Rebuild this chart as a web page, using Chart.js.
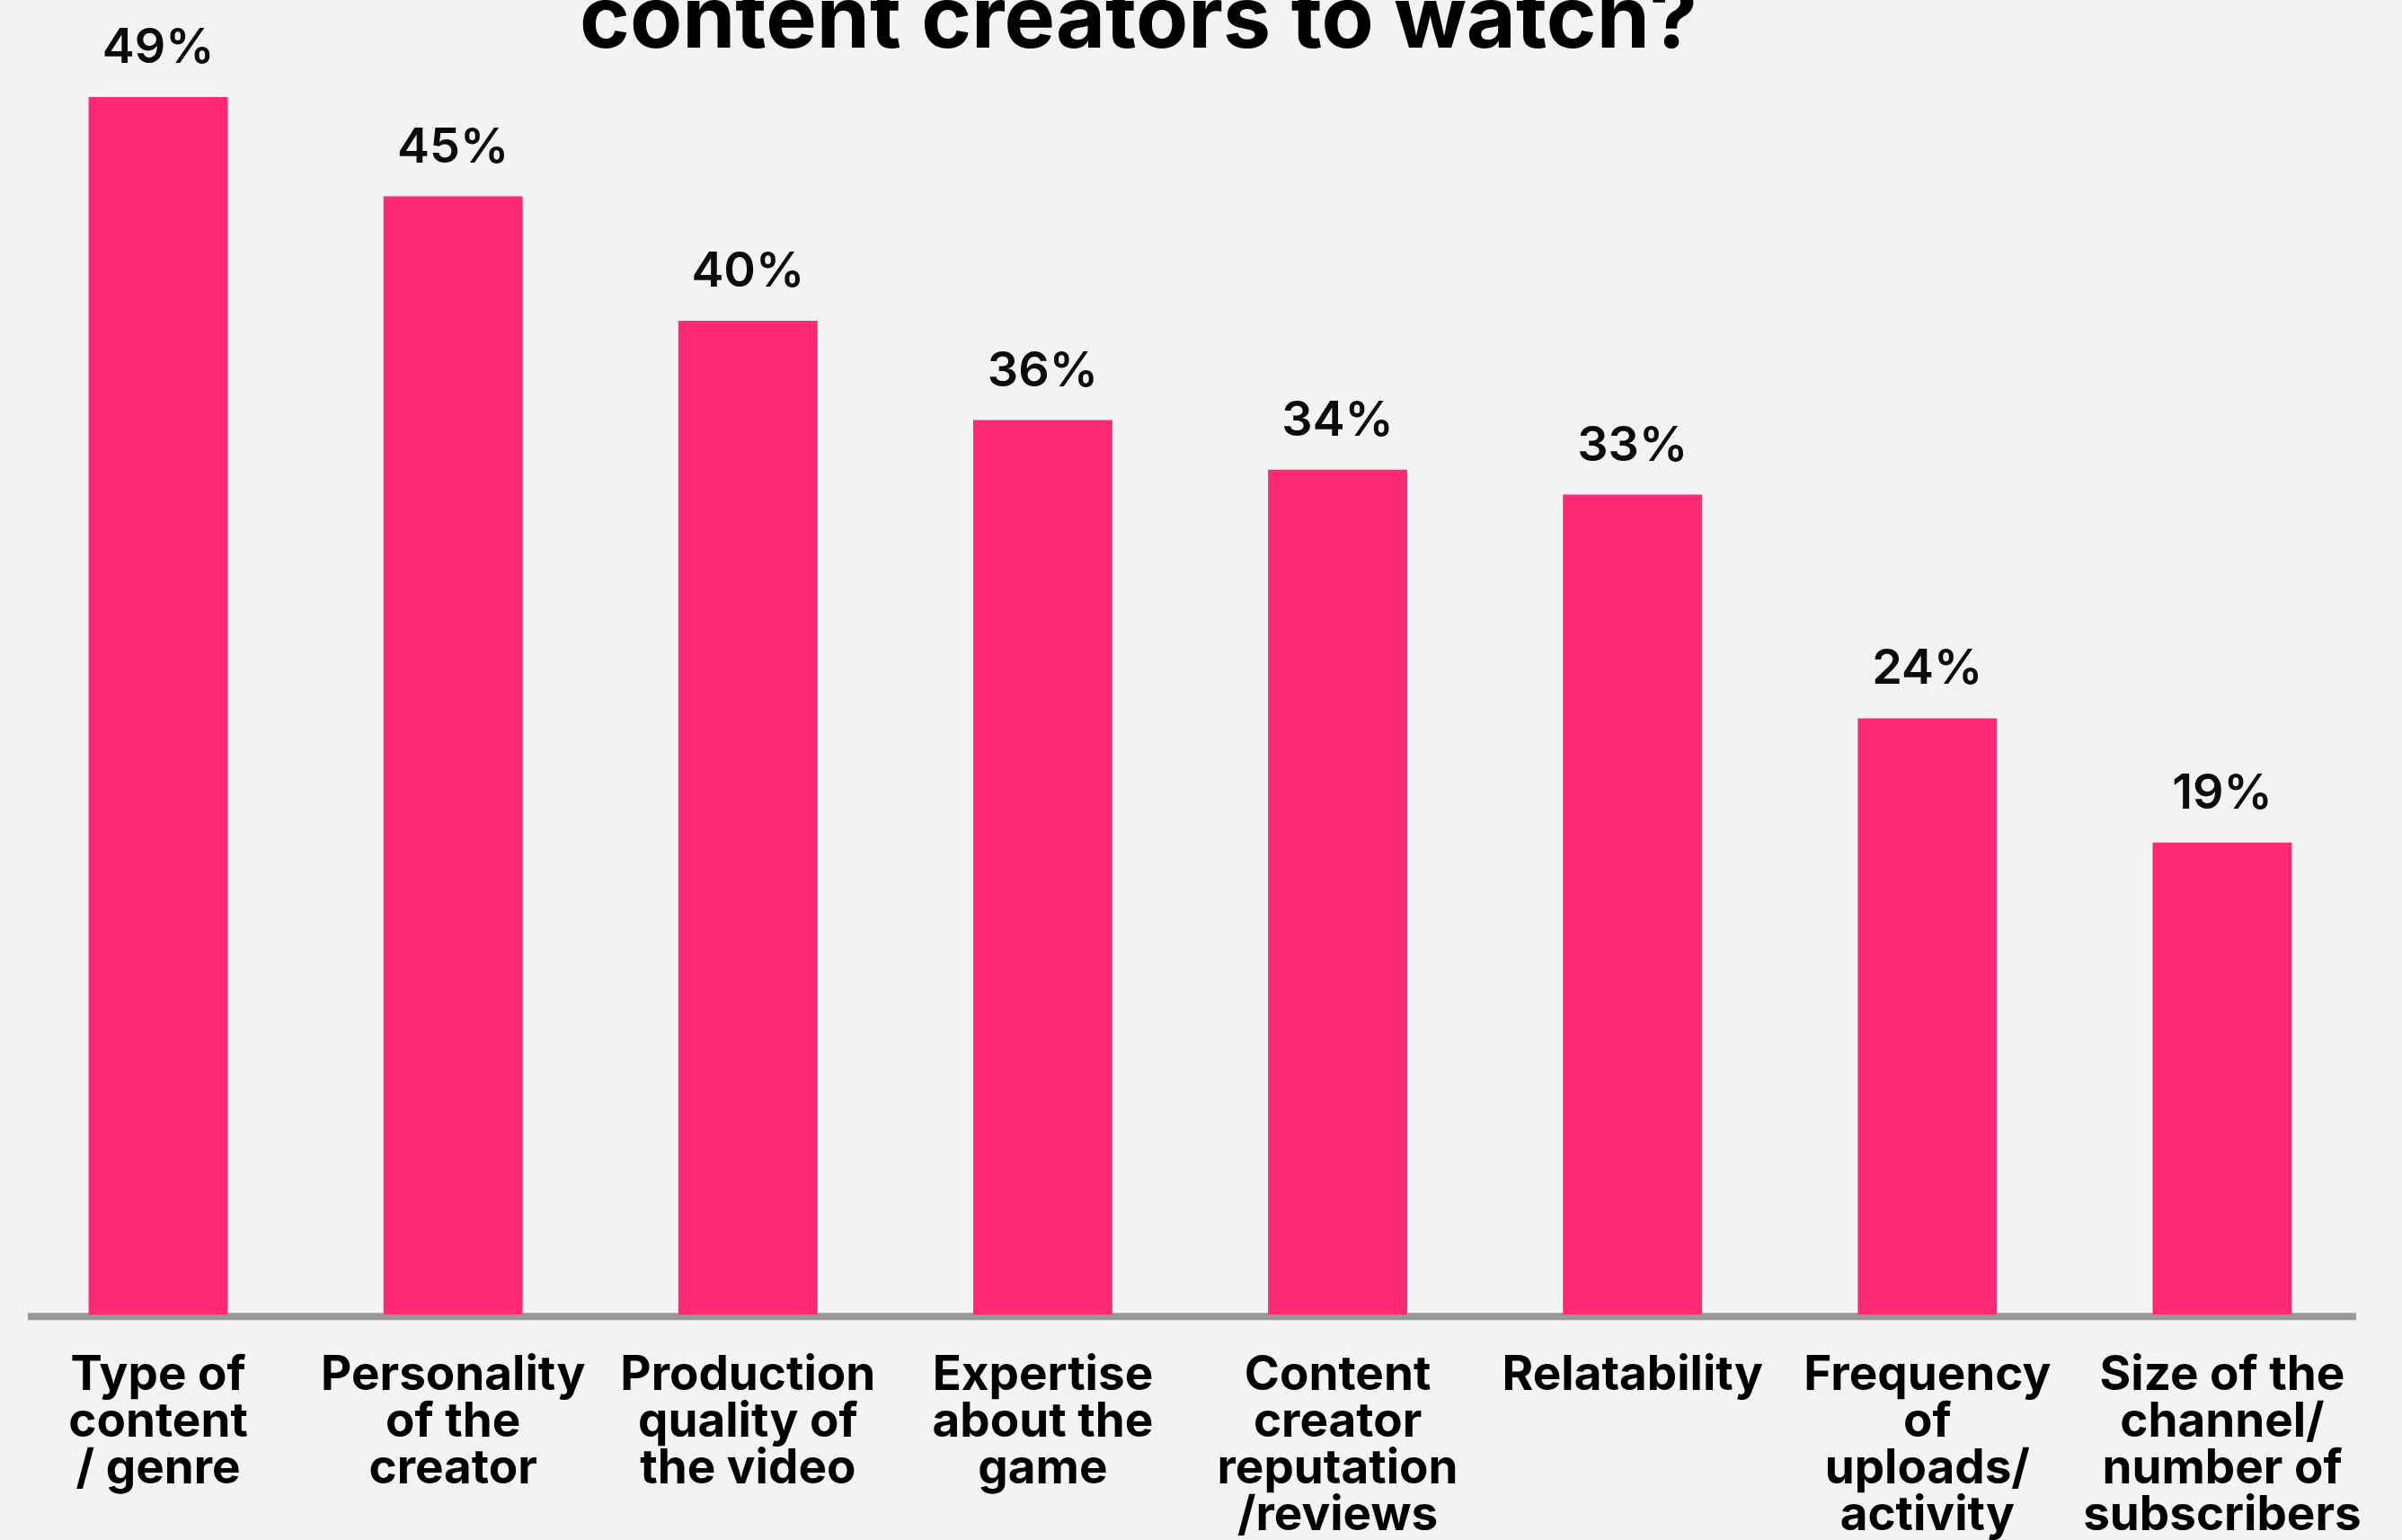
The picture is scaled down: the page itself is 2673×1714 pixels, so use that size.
<!DOCTYPE html>
<html>
<head>
<meta charset="utf-8">
<script src="https://cdn.jsdelivr.net/npm/chart.js@4"></script>
<style>
  html, body { margin: 0; padding: 0; background: #f3f3f3; overflow: hidden; }
  #wrap { width: 2673px; height: 1714px; overflow: hidden; }
  #box { width: 2673px; height: 1766px; position: relative; }
</style>
</head>
<body>
<div id="wrap"><div id="box"><canvas id="chart"></canvas></div></div>
<script>
// survey results, share of respondents
const categories = [
  ['Type of', 'content', '/ genre'],
  ['Personality', 'of the', 'creator'],
  ['Production', 'quality of', 'the video'],
  ['Expertise', 'about the', 'game'],
  ['Content', 'creator', 'reputation', '/reviews'],
  ['Relatability'],
  ['Frequency', 'of', 'uploads/', 'activity'],
  ['Size of the', 'channel/', 'number of', 'subscribers']
];
const shares = [49, 45, 40, 36, 34, 33, 24, 19];
const titleText = 'content creators to watch?';

const pink = '#ff2a76';

// grey base line under the bars, a little shorter than the plot
const baseLine = {
  id: 'baseLine',
  beforeDatasetsDraw(chart) {
    const { ctx, chartArea } = chart;
    ctx.save();
    ctx.strokeStyle = '#999999';
    ctx.lineWidth = 8;
    ctx.beginPath();
    ctx.moveTo(chartArea.left + 19, chartArea.bottom + 2);
    ctx.lineTo(chartArea.right - 15, chartArea.bottom + 2);
    ctx.stroke();
    ctx.restore();
  }
};

// percentage above each bar
const valueLabels = {
  id: 'valueLabels',
  afterDatasetsDraw(chart) {
    const ctx = chart.ctx;
    const meta = chart.getDatasetMeta(0);
    ctx.save();
    ctx.fillStyle = '#0b0b0b';
    ctx.font = '600 54px Inter';
    ctx.textAlign = 'center';
    ctx.textBaseline = 'alphabetic';
    meta.data.forEach((bar, i) => {
      ctx.fillText(shares[i] + '%', bar.x, bar.y - 38);
    });
    ctx.restore();
  }
};

// heading, its first line runs off the top
const heading = {
  id: 'heading',
  afterDraw(chart) {
    const ctx = chart.ctx;
    ctx.save();
    ctx.fillStyle = '#000';
    ctx.font = 'bold 95px Inter';
    ctx.textAlign = 'center';
    ctx.textBaseline = 'alphabetic';
    ctx.fillText(titleText, 1267, 53);
    ctx.restore();
  }
};

new Chart(document.getElementById('chart'), {
  type: 'bar',
  data: {
    labels: categories,
    datasets: [{
      data: shares,
      backgroundColor: pink,
      borderWidth: 0,
      barPercentage: 0.472,
      categoryPercentage: 1
    }]
  },
  options: {
    responsive: true,
    maintainAspectRatio: false,
    animation: false,
    layout: { padding: { top: 25, left: 12, right: 36, bottom: 11 } },
    plugins: {
      legend: { display: false },
      tooltip: { enabled: false },
      title: { display: false }
    },
    scales: {
      x: {
        grid: { display: false, drawTicks: false },
        border: { display: false },
        ticks: {
          color: '#000',
          padding: 42,
          maxRotation: 0,
          autoSkip: false,
          font: { family: 'Inter', size: 53, weight: 'bold', lineHeight: 0.98 }
        }
      },
      y: {
        display: false,
        min: 0,
        max: 52
      }
    }
  },
  plugins: [baseLine, valueLabels, heading]
});
</script>
</body>
</html>
